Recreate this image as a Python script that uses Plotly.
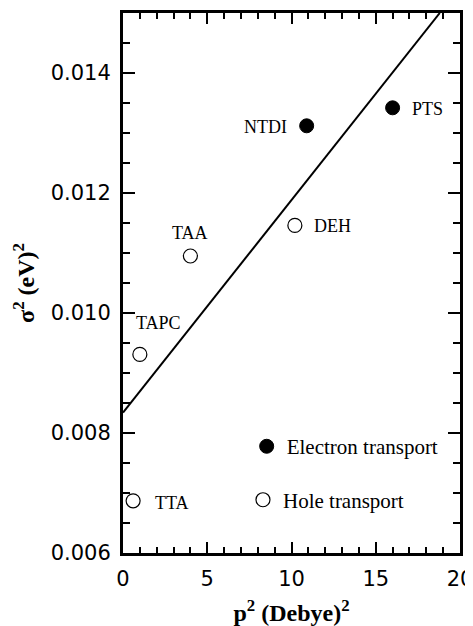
import plotly.graph_objects as go

# ---- data ----
electron_names = ["NTDI", "PTS"]
electron_x = [10.9, 16.0]
electron_y = [0.01312, 0.01342]

hole_names = ["TTA", "TAPC", "TAA", "DEH"]
hole_x = [0.6, 1.0, 4.0, 10.2]
hole_y = [0.00687, 0.00931, 0.01095, 0.01146]

fit_x = [0.0, 18.8]
fit_y = [0.00834, 0.0150]

x_ticks = [0, 5, 10, 15, 20]
y_ticks = [0.006, 0.008, 0.010, 0.012, 0.014]

# ---- styling ----
label_style = {
    "TTA": dict(xanchor="left", xshift=20, yshift=-2),
    "TAPC": dict(xanchor="center", xshift=19, yshift=31),
    "TAA": dict(xanchor="center", xshift=0, yshift=23),
    "DEH": dict(xanchor="left", xshift=17, yshift=-1),
    "NTDI": dict(xanchor="right", xshift=-18, yshift=-1),
    "PTS": dict(xanchor="left", xshift=17, yshift=-1),
}
serif = "Liberation Serif, Times New Roman, serif"
sans = "DejaVu Sans, Arial, sans-serif"

fig = go.Figure()
fig.add_trace(go.Scatter(x=fit_x, y=fit_y, mode="lines",
                         line=dict(color="black", width=2), showlegend=False,
                         hoverinfo="skip"))
fig.add_trace(go.Scatter(x=electron_x, y=electron_y, mode="markers",
                         name="Electron transport", legend="legend",
                         marker=dict(symbol="circle", size=14, color="black",
                                     line=dict(color="black", width=1))))
fig.add_trace(go.Scatter(x=hole_x, y=hole_y, mode="markers",
                         name="Hole transport", legend="legend2",
                         marker=dict(symbol="circle-open", size=14, color="black",
                                     line=dict(color="black", width=1.2))))

for names, xs, ys in [(electron_names, electron_x, electron_y),
                      (hole_names, hole_x, hole_y)]:
    for n, xv, yv in zip(names, xs, ys):
        st = label_style[n]
        fig.add_annotation(x=xv, y=yv, text=n, showarrow=False,
                           xanchor=st["xanchor"], yanchor="middle",
                           xshift=st["xshift"], yshift=st["yshift"],
                           font=dict(family=serif, size=18, color="black"))

fig.update_xaxes(range=[0, 20], tickmode="array", tickvals=x_ticks,
                 ticktext=[str(v) for v in x_ticks],
                 ticks="inside", ticklen=11, tickwidth=1.5, tickcolor="black",
                 minor=dict(ticks="inside", ticklen=6, dtick=1, tick0=0,
                            tickwidth=1.5, tickcolor="black"),
                 showline=True, linewidth=3, linecolor="black", mirror="allticks",
                 showgrid=False, zeroline=False, automargin=False,
                 ticklabelstandoff=5, ticklabeloverflow="allow",
                 tickfont=dict(family=sans, size=21, color="black"),
                 title=dict(text="<b>p<sup>2</sup> (Debye)<sup>2</sup></b>",
                            font=dict(family=serif, size=24, color="black"),
                            standoff=24))
fig.update_yaxes(range=[0.006, 0.015], tickmode="array", tickvals=y_ticks,
                 ticktext=["%.3f" % v for v in y_ticks],
                 ticks="inside", ticklen=12, tickwidth=1.5, tickcolor="black",
                 minor=dict(ticks="inside", ticklen=7, dtick=0.0005, tick0=0.006,
                            tickwidth=1.5, tickcolor="black"),
                 showline=True, linewidth=3, linecolor="black", mirror="allticks",
                 showgrid=False, zeroline=False, automargin=False,
                 ticklabelstandoff=5, ticklabeloverflow="allow",
                 tickfont=dict(family=sans, size=21, color="black"),
                 title=dict(text="<b>σ<sup>2</sup> (eV)<sup>2</sup></b>",
                            font=dict(family=serif, size=24, color="black"),
                            standoff=10))

legend_common = dict(xanchor="left", yanchor="middle", bgcolor="rgba(0,0,0,0)",
                     borderwidth=0, font=dict(family=serif, size=21, color="black"))
fig.update_layout(
    width=465, height=618,
    margin=dict(l=115, r=13, t=5, b=73),
    paper_bgcolor="white", plot_bgcolor="rgba(0,0,0,0)",
    legend=dict(x=0.367, y=0.197, **legend_common),
    legend2=dict(x=0.356, y=0.098, **legend_common),
)

fig.write_html("out.html")
